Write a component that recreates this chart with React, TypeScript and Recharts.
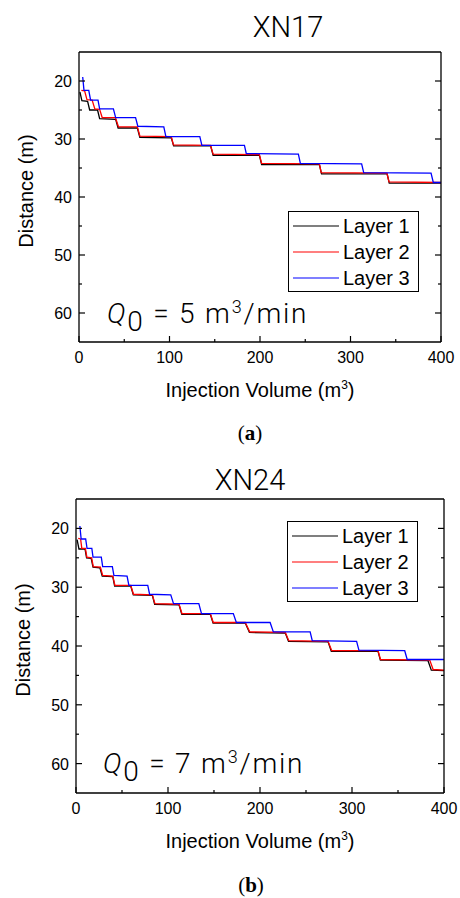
import React from 'react';
import { LineChart, Line, XAxis, YAxis, Legend } from 'recharts';

type Pt = [number, number];

// (a) XN17, Q0 = 5 m3/min  -- [injection volume m3, distance m]
const xn17Layer1: Pt[] = [
  [1, 21.9], [3.2, 23.4], [9.5, 23.5], [11.8, 25.0], [20.5, 25.0], [22.8, 26.5],
  [40.5, 26.6], [43.2, 28.1], [64.5, 28.1], [67.2, 29.7], [102, 29.8], [104.6, 31.2],
  [145.5, 31.2], [148.2, 32.8], [199.3, 32.8], [201.8, 34.4], [265.6, 34.4], [268, 36.0],
  [340.5, 36.0], [342.8, 37.6], [400, 37.6],
];
const xn17Layer2: Pt[] = [
  [2.6, 21.6], [6.2, 21.7], [8.8, 23.2], [14.5, 23.3], [17.5, 24.8], [22.8, 24.9],
  [25.6, 26.3], [40.3, 26.3], [43.6, 27.9], [64.5, 27.9], [67.3, 29.5], [102, 29.6],
  [104.3, 31.0], [145.3, 31.1], [148.2, 32.6], [199.3, 32.7], [201.8, 34.2], [265.6, 34.3],
  [267.6, 35.8], [340.2, 35.9], [342.6, 37.4], [400, 37.5],
];
const xn17Layer3: Pt[] = [
  [4.1, 19.3], [5.5, 21.6], [10.8, 21.6], [12.8, 23.3], [21, 23.3], [22.8, 24.8],
  [38, 24.8], [40.5, 26.3], [62.5, 26.3], [65, 27.8], [93.7, 27.9], [96, 29.6],
  [133.5, 29.6], [135.8, 31.1], [182.8, 31.1], [184.8, 32.5], [242.4, 32.6], [244.6, 34.2],
  [312.3, 34.3], [314.6, 35.8], [389, 35.9], [391.5, 37.5], [400, 37.5],
];

// (b) XN24, Q0 = 7 m3/min
const xn24Layer1: Pt[] = [
  [1.2, 21.9], [3.2, 23.5], [9.8, 23.5], [11.5, 25.0], [16.5, 25.1], [18.5, 26.6],
  [26, 26.7], [28.5, 28.1], [40, 28.2], [42, 29.8], [59.5, 29.8], [62.3, 31.3],
  [83, 31.4], [85.5, 32.9], [112, 33.0], [115, 34.6], [146, 34.6], [149, 36.1],
  [184, 36.1], [188.5, 37.7], [227.5, 37.8], [231, 39.2], [274, 39.3], [277.5, 40.9],
  [328.3, 40.9], [330.8, 42.4], [382.6, 42.5], [386.2, 44.1], [400, 44.2],
];
const xn24Layer2: Pt[] = [
  [2.4, 21.7], [5, 21.8], [6.3, 23.4], [10.2, 23.4], [11.8, 24.9], [17, 25.0],
  [18.8, 26.5], [26.5, 26.6], [29, 28.0], [40, 28.1], [42.3, 29.7], [59.5, 29.7],
  [62.5, 31.2], [83, 31.3], [85.8, 32.8], [112, 32.9], [115.2, 34.5], [146, 34.5],
  [149.2, 36.0], [184, 36.0], [188.8, 37.6], [227.5, 37.7], [231.3, 39.1], [274, 39.2],
  [278, 40.8], [328.3, 40.8], [331, 42.3], [384.5, 42.4], [388.2, 44.0], [400, 44.1],
];
const xn24Layer3: Pt[] = [
  [4.2, 19.6], [5.6, 21.8], [10.5, 21.8], [12, 23.4], [17.2, 23.4], [18.5, 24.9],
  [27.5, 24.9], [29, 26.5], [39.5, 26.5], [41.2, 28.0], [55.5, 28.1], [57.5, 29.7],
  [78, 29.7], [80, 31.2], [103, 31.3], [106, 32.8], [133.5, 32.8], [136.4, 34.5],
  [171, 34.5], [174.3, 36.0], [211, 36.0], [214.5, 37.6], [254.5, 37.6], [256.8, 39.1],
  [305, 39.2], [307.5, 40.7], [357.3, 40.8], [360, 42.3], [400, 42.3],
];

const layerNames = ['Layer 1', 'Layer 2', 'Layer 3'];
const layerColors = ['#000000', '#ff0000', '#0000ff'];
const volumeTicks = [0, 50, 100, 150, 200, 250, 300, 350, 400];
const distanceTicks = [20, 25, 30, 35, 40, 45, 50, 55, 60];

const sans = '"Liberation Sans", Arial, sans-serif';
const light = 'Roboto, "Open Sans", "Liberation Sans", sans-serif';

const toRows = (pts: Pt[]) => pts.map(([v, d]) => ({ v, d }));

// inward ticks, labels only on the major ones
const BottomTick = (props: any) => {
  const { x, y, payload } = props;
  const major = payload.value % 100 === 0;
  return (
    <g>
      <line x1={x} y1={y} x2={x} y2={y - (major ? 6 : 3)} stroke="#000" strokeWidth={1.2} />
      {major && (
        <text x={x} y={y + 21} textAnchor="middle" fontSize={16} fontFamily={sans} fill="#000">
          {payload.value}
        </text>
      )}
    </g>
  );
};
const TopTick = (props: any) => {
  const { x, y, payload } = props;
  const major = payload.value % 100 === 0;
  return <line x1={x} y1={y} x2={x} y2={y + (major ? 6 : 3)} stroke="#000" strokeWidth={1.2} />;
};
const LeftTick = (props: any) => {
  const { x, y, payload } = props;
  const major = payload.value % 10 === 0;
  return (
    <g>
      <line x1={x} y1={y} x2={x + (major ? 6 : 3)} y2={y} stroke="#000" strokeWidth={1.2} />
      {major && (
        <text x={x - 7} y={y + 6} textAnchor="end" fontSize={16} fontFamily={sans} fill="#000">
          {payload.value}
        </text>
      )}
    </g>
  );
};
const RightTick = (props: any) => {
  const { x, y, payload } = props;
  const major = payload.value % 10 === 0;
  return <line x1={x} y1={y} x2={x - (major ? 6 : 3)} y2={y} stroke="#000" strokeWidth={1.2} />;
};

const LegendBox = () => (
  <div style={{ border: '1px solid #000', background: '#fff', width: 129, paddingTop: 1, height: 78 }}>
    {layerNames.map((n, i) => (
      <div key={n} style={{ display: 'flex', alignItems: 'center', height: 26 }}>
        <svg width={54} height={26} style={{ display: 'block' }}>
          <line x1={4} x2={50} y1={13} y2={13} stroke={layerColors[i]} strokeWidth={1.2} />
        </svg>
        <span style={{ fontFamily: sans, fontSize: 20, lineHeight: '26px', color: '#000' }}>{n}</span>
      </div>
    ))}
  </div>
);

interface PanelProps {
  top: number;
  layers: Pt[][];
  margin: { top: number; right: number; left: number; bottom: number };
  yWidth: number;
  xHeight: number;
  legendPos: { left: number; top: number };
  yLabelX: number;
  yLabelY: number;
}

function Panel({ top, layers, margin, yWidth, xHeight, legendPos, yLabelX, yLabelY }: PanelProps) {
  const axisLine = { stroke: '#000', strokeWidth: 1.3 };
  return (
    <div style={{ position: 'absolute', left: 0, top }}>
      <LineChart width={460} height={420} margin={margin}>
        <XAxis
          dataKey="v"
          type="number"
          domain={[0, 400]}
          ticks={volumeTicks}
          interval={0}
          allowDataOverflow
          height={xHeight}
          tickSize={0}
          tickMargin={0}
          tickLine={false}
          axisLine={axisLine}
          tick={<BottomTick />}
          label={{
            content: (p: any) => {
              const vb = p.viewBox;
              return (
                <text x={vb.x + vb.width / 2} y={vb.y + 55} textAnchor="middle" fontSize={20} fontFamily={sans} fill="#000">
                  Injection Volume (m<tspan dy={-8} fontSize={12}>3</tspan><tspan dy={8}>)</tspan>
                </text>
              );
            },
          }}
        />
        <XAxis
          xAxisId="top"
          orientation="top"
          type="number"
          domain={[0, 400]}
          ticks={volumeTicks}
          interval={0}
          allowDataOverflow
          height={1}
          tickSize={0}
          tickMargin={0}
          tickLine={false}
          axisLine={axisLine}
          tick={<TopTick />}
        />
        <YAxis
          type="number"
          domain={[15, 65]}
          reversed
          ticks={distanceTicks}
          interval={0}
          allowDataOverflow
          width={yWidth}
          tickSize={0}
          tickMargin={0}
          tickLine={false}
          axisLine={axisLine}
          tick={<LeftTick />}
          label={{
            content: () => (
              <text
                x={yLabelX}
                y={yLabelY}
                transform={`rotate(-90 ${yLabelX} ${yLabelY})`}
                textAnchor="middle"
                fontSize={20}
                fontFamily={sans}
                fill="#000"
              >
                Distance (m)
              </text>
            ),
          }}
        />
        <YAxis
          yAxisId="right"
          orientation="right"
          type="number"
          domain={[15, 65]}
          reversed
          ticks={distanceTicks}
          interval={0}
          allowDataOverflow
          width={1}
          tickSize={0}
          tickMargin={0}
          tickLine={false}
          axisLine={axisLine}
          tick={<RightTick />}
        />
        <Legend
          layout="vertical"
          align="center"
          verticalAlign="middle"
          wrapperStyle={{ left: legendPos.left, top: legendPos.top, width: 131 }}
          content={() => <LegendBox />}
        />
        {layers.map((pts, i) => (
          <Line
            key={layerNames[i]}
            data={toRows(pts)}
            dataKey="d"
            name={layerNames[i]}
            type="linear"
            stroke={layerColors[i]}
            strokeWidth={1.3}
            dot={false}
            activeDot={false}
            isAnimationActive={false}
          />
        ))}
      </LineChart>
    </div>
  );
}

const Q0 = ({ x, y, rate }: { x: number; y: number; rate: number }) => (
  <text x={x} y={y} fontSize={28} fontFamily={light} fontWeight={300} letterSpacing={1.8} fill="#000">
    <tspan fontStyle="italic">Q</tspan>
    <tspan dy={8}>0</tspan>
    <tspan dy={-8}>{` = ${rate} m`}</tspan>
    <tspan dy={-10} fontSize={18}>3</tspan>
    <tspan dy={10}>/min</tspan>
  </text>
);

export default function App() {
  return (
    <div style={{ position: 'absolute', left: 0, top: 0, width: 460, height: 898, background: '#fff' }}>
      <Panel
        top={0}
        layers={[xn17Layer1, xn17Layer2, xn17Layer3]}
        margin={{ top: 51, right: 18, left: 0, bottom: 0 }}
        yWidth={79}
        xHeight={78}
        legendPos={{ left: 288, top: 211 }}
        yLabelX={33}
        yLabelY={191}
      />
      <Panel
        top={450}
        layers={[xn24Layer1, xn24Layer2, xn24Layer3]}
        margin={{ top: 48, right: 15, left: 0, bottom: 0 }}
        yWidth={76}
        xHeight={77}
        legendPos={{ left: 287, top: 71 }}
        yLabelX={30}
        yLabelY={190}
      />
      <svg
        width={460}
        height={898}
        style={{ position: 'absolute', left: 0, top: 0, pointerEvents: 'none' }}
      >
        <text x={288} y={37} textAnchor="middle" fontSize={29} fontFamily={light} fontWeight={300} fill="#000">
          XN17
        </text>
        <text x={250} y={490} textAnchor="middle" fontSize={29} fontFamily={light} fontWeight={300} fill="#000">
          XN24
        </text>
        <Q0 x={107} y={323} rate={5} />
        <Q0 x={103} y={773} rate={7} />
        <text x={250} y={440} textAnchor="middle" fontSize={21} fontFamily='"Liberation Serif", serif' fill="#000">
          (<tspan fontWeight="bold">a</tspan>)
        </text>
        <text x={251} y={892} textAnchor="middle" fontSize={21} fontFamily='"Liberation Serif", serif' fill="#000">
          (<tspan fontWeight="bold">b</tspan>)
        </text>
      </svg>
    </div>
  );
}
